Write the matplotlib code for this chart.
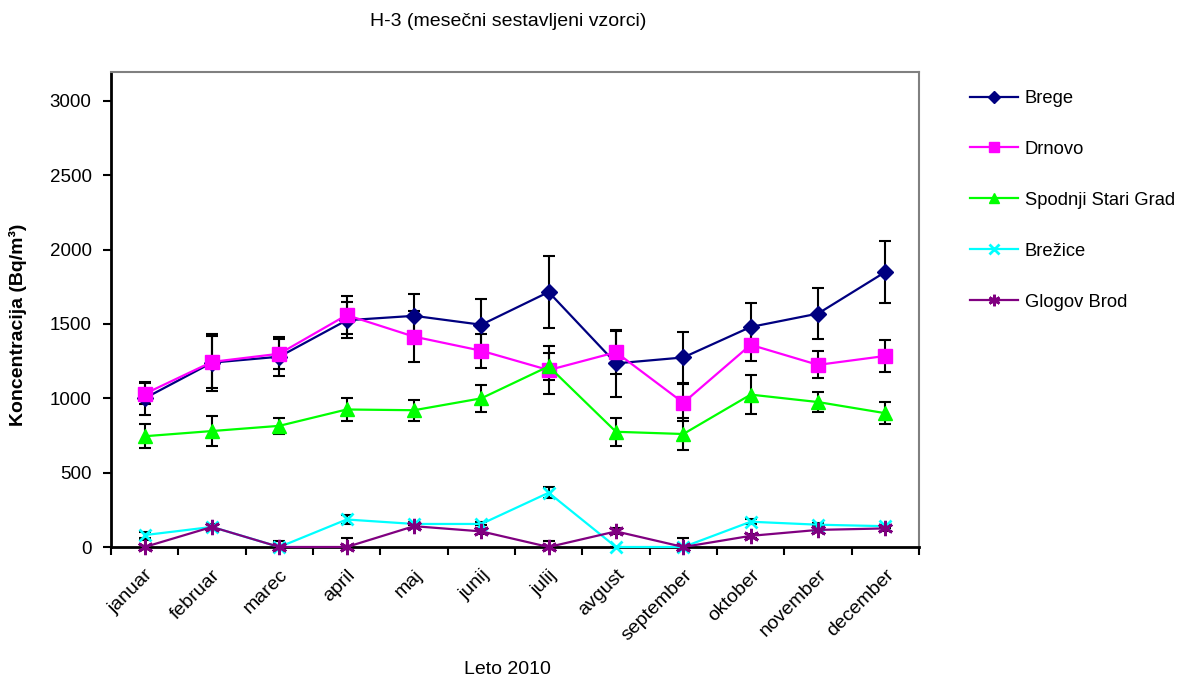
import matplotlib
matplotlib.use("Agg")
import matplotlib.pyplot as plt
from matplotlib.lines import Line2D

plt.rcParams['font.family'] = ['Liberation Sans', 'DejaVu Sans']

months = ["januar", "februar", "marec", "april", "maj", "junij", "julij",
          "avgust", "september", "oktober", "november", "december"]

brege = [1000, 1240, 1280, 1525, 1555, 1495, 1715, 1235, 1275, 1480, 1570, 1850]
brege_err = [110, 190, 130, 120, 150, 170, 240, 225, 170, 160, 170, 210]
drnovo = [1030, 1245, 1300, 1560, 1415, 1320, 1190, 1310, 970, 1360, 1225, 1285]
drnovo_err = [70, 175, 100, 130, 170, 115, 160, 145, 125, 110, 90, 110]
spodnji = [745, 780, 815, 925, 920, 1000, 1215, 775, 760, 1025, 975, 900]
spodnji_err = [80, 100, 55, 75, 70, 90, 90, 95, 110, 130, 70, 75]
brezice = [80, 135, 0, 185, 155, 155, 365, 0, 0, 170, 150, 140]
brezice_err = [20, 15, 0, 30, 10, 10, 37, 0, 0, 15, 10, 10]
glogov = [0, 135, 0, 0, 140, 105, 0, 105, 0, 75, 115, 125]
glogov_err = [45, 20, 38, 58, 15, 15, 40, 20, 58, 15, 15, 20]

series = [
    ("Brege", brege, brege_err, "#000080", "D", 8.5, 1.0),
    ("Drnovo", drnovo, drnovo_err, "#FF00FF", "s", 10, 1.0),
    ("Spodnji Stari Grad", spodnji, spodnji_err, "#00FF00", "^", 10, 1.0),
    ("Brežice", brezice, brezice_err, "#00FFFF", "x", 9, 2.0),
    ("Glogov Brod", glogov, glogov_err, "#800080", (6, 2, 0), 11, 2.0),
]

W, H = 1179, 681
fig = plt.figure(figsize=(W / 100, H / 100), dpi=100)
ax = fig.add_axes([111 / W, 1 - 547 / H, (919 - 111) / W, (547 - 72) / H])

x = list(range(len(months)))
handles = []
for name, vals, err, col, mk, ms, mew in series:
    ax.errorbar(x, vals, yerr=err, fmt='none', ecolor='black', elinewidth=1.5,
                capsize=4.5, capthick=1.5, zorder=2, clip_on=True)
    ax.plot(x, vals, color=col, lw=1.6, marker=mk, markersize=ms,
            markeredgewidth=mew, markerfacecolor=col, markeredgecolor=col,
            zorder=3, clip_on=False)
    handles.append(Line2D([0], [0], color=col, lw=1.6, marker=mk,
                          markersize=ms * 0.75, markeredgewidth=mew,
                          markerfacecolor=col, markeredgecolor=col, label=name))

ax.set_xlim(-0.5, len(months) - 0.5)
ax.set_ylim(0, 3195)
ax.set_yticks([0, 500, 1000, 1500, 2000, 2500, 3000])
ax.set_xticks([i - 0.5 for i in range(len(months) + 1)], minor=False)
ax.set_xticklabels([""] * (len(months) + 1))
ax.set_xticks(x, minor=True)
ax.set_xticklabels(months, minor=True, rotation=45, ha='right',
                   rotation_mode='anchor', fontsize=14)
ax.tick_params(axis='x', which='minor', length=0, pad=14)
ax.tick_params(axis='x', which='major', length=6, width=1.5, direction='out')
ax.tick_params(axis='y', length=6, width=1.5, direction='out', labelsize=13.5, pad=8)

for s in ['left', 'bottom']:
    ax.spines[s].set_color('black')
    ax.spines[s].set_linewidth(2)
for s in ['top', 'right']:
    ax.spines[s].set_color('#808080')
    ax.spines[s].set_linewidth(1.5)

ax.set_ylabel("Koncentracija (Bq/m³)", fontsize=14, fontweight='bold')
ax.yaxis.set_label_coords((27 - 111) / 808, (547 - 325) / 475)
fig.text(507 / W, 1 - 670 / H, "Leto 2010", ha='center', va='center', fontsize=14)
fig.text(508 / W, 1 - 22 / H, "H-3 (mesečni sestavljeni vzorci)", ha='center',
         va='center', fontsize=14)

fig.legend(handles=handles, loc='upper left', bbox_to_anchor=(970 / W, 1 - 90 / H),
           frameon=False, fontsize=13.2, handlelength=2.6, handletextpad=0.4,
           labelspacing=1.85, borderpad=0, borderaxespad=0)

fig.savefig("out.png", dpi=100)
